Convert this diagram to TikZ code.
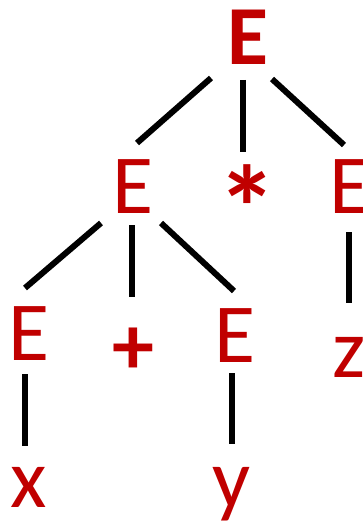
\documentclass[tikz,border=0pt]{standalone}
\usepackage{fontspec}
\setmainfont{Carlito}
\definecolor{sym}{RGB}{192,0,0}
\tikzset{
  sym/.style={text=sym, inner sep=0pt, anchor=base, font=\fontsize{84}{84}\selectfont},
  symb/.style={sym, font=\fontsize{84}{84}\selectfont\bfseries},
  edge/.style={line width=6pt, black}
}
\begin{document}
\begin{tikzpicture}[x=1pt,y=1pt]
\useasboundingbox (0,0) rectangle (362,-524);
% nodes
\node[symb] (E0) at (248,-65) {E};
\node[sym]  (E1) at (133,-213) {E};
\node[symb, font=\fontsize{120}{120}\selectfont\bfseries] (mul) at (247,-250) {*};
\node[sym]  (E2) at (350,-213) {E};
\node[sym]  (E3) at (29.5,-360) {E};
\node[symb] (plus) at (133.5,-374) {+};
\node[sym]  (E4) at (235.5,-362) {E};
\node[sym]  (z) at (349,-377) {z};
\node[sym]  (x) at (28.5,-507) {x};
\node[sym]  (y) at (232,-507) {y};
% connector end points
\coordinate (E0l) at (211,-78);  \coordinate (E1t) at (137,-143);
\coordinate (E0m) at (243,-80);  \coordinate (mult) at (243,-152);
\coordinate (E0r) at (272,-79);  \coordinate (E2t) at (344,-145);
\coordinate (E1l) at (101,-223); \coordinate (E3t) at (25,-288);
\coordinate (E1m) at (132,-225); \coordinate (plust) at (132,-297);
\coordinate (E1r) at (161,-223); \coordinate (E4t) at (234,-291);
\coordinate (E2b) at (349,-232); \coordinate (zt) at (349,-303);
\coordinate (E3b) at (25,-374);  \coordinate (xt) at (25,-446);
\coordinate (E4b) at (232,-373); \coordinate (yt) at (232,-444);
% connectors
\draw[edge] (E0l) -- (E1t);
\draw[edge] (E0m) -- (mult);
\draw[edge] (E0r) -- (E2t);
\draw[edge] (E1l) -- (E3t);
\draw[edge] (E1m) -- (plust);
\draw[edge] (E1r) -- (E4t);
\draw[edge] (E2b) -- (zt);
\draw[edge] (E3b) -- (xt);
\draw[edge] (E4b) -- (yt);
\end{tikzpicture}
\end{document}
